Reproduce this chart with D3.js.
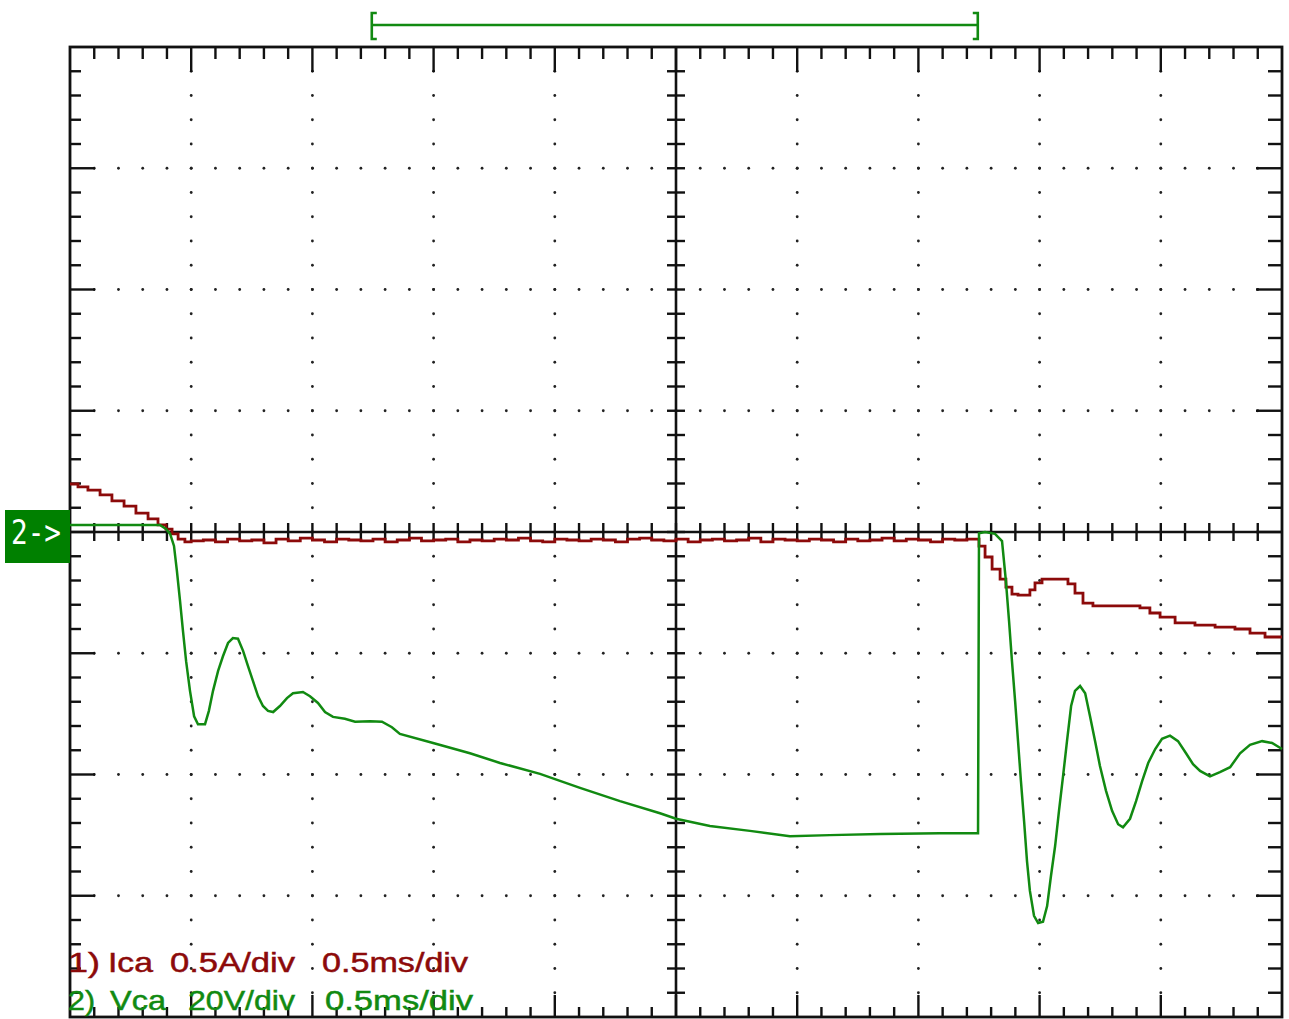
<!DOCTYPE html>
<html>
<head>
<meta charset="utf-8">
<script src="https://cdn.jsdelivr.net/npm/d3@7"></script>
<style>
  html, body { margin: 0; padding: 0; background: #fff; }
  svg { display: block; }
</style>
</head>
<body>
<svg id="scope" width="1289" height="1019"></svg>
<script>
// Channel 2: Vca (V) vs time (ms)
const vcaTime = [0,0.248,0.371,0.396,0.413,0.429,0.441,0.454,0.466,0.479,0.495,0.512,0.528,0.557,0.573,0.590,0.611,0.631,0.652,0.672,0.693,0.714,0.734,0.755,0.776,0.796,0.817,0.838,0.866,0.895,0.920,0.961,0.990,1.023,1.052,1.085,1.134,1.176,1.238,1.287,1.328,1.361,1.498,1.650,1.774,1.939,2.104,2.269,2.434,2.500,2.640,2.805,2.970,3.135,3.342,3.589,3.746,3.750,3.775,3.816,3.845,3.861,3.874,3.886,3.899,3.911,3.923,3.936,3.948,3.960,3.977,3.994,4.014,4.031,4.047,4.064,4.080,4.097,4.113,4.130,4.146,4.167,4.188,4.208,4.229,4.249,4.274,4.299,4.324,4.344,4.373,4.398,4.423,4.448,4.477,4.505,4.538,4.571,4.604,4.633,4.662,4.703,4.744,4.786,4.827,4.868,4.918,4.959,5.0];
const vcaVolts = [1.15,1.15,1.15,0.5,-0.3,-2.3,-6.4,-11.4,-16.3,-21.3,-26.2,-30.4,-31.7,-31.7,-29.5,-26.2,-22.9,-20.5,-18.3,-17.5,-17.6,-19.6,-22.1,-24.6,-27.1,-28.7,-29.5,-29.7,-28.7,-27.4,-26.6,-26.4,-27.1,-28.2,-29.7,-30.5,-30.8,-31.3,-31.2,-31.3,-32.2,-33.3,-34.8,-36.5,-38.1,-39.9,-42.2,-44.4,-46.4,-47.3,-48.5,-49.3,-50.2,-50.0,-49.8,-49.7,-49.7,-0.2,0,-0.3,-1.5,-8.1,-14.7,-21.3,-27.9,-34.5,-41.1,-47.7,-54.3,-59.2,-63.3,-64.5,-64.3,-61.7,-56.7,-51.8,-46.0,-40.2,-34.5,-28.7,-26.2,-25.4,-26.6,-30.4,-34.5,-38.6,-42.7,-46.0,-48.2,-48.7,-47.3,-44.4,-41.1,-38.1,-35.8,-34.1,-33.6,-34.5,-36.5,-38.3,-39.4,-40.3,-39.6,-38.8,-36.5,-35.1,-34.5,-34.8,-35.8];

// Channel 1: Ica (A) vs time (ms)
const icaTime = [0,0.033,0.074,0.124,0.173,0.223,0.272,0.322,0.363,0.396,0.421,0.446,0.474,
  0.50,0.55,0.60,0.65,0.70,0.75,0.80,0.85,0.90,0.95,1.00,1.05,1.10,1.15,1.20,1.25,1.30,1.35,1.40,1.45,1.50,1.55,1.60,1.65,1.70,1.75,1.80,1.85,1.90,1.95,2.00,2.05,2.10,2.15,2.20,2.25,2.30,2.35,2.40,2.45,2.50,2.55,2.60,2.65,2.70,2.75,2.80,2.85,2.90,2.95,3.00,3.05,3.10,3.15,3.20,3.25,3.30,3.35,3.40,3.45,3.50,3.55,3.60,3.65,3.70,
  3.75,3.775,3.804,3.837,3.861,3.886,3.911,3.960,3.981,4.010,4.051,4.117,4.146,4.179,4.220,4.270,4.414,4.455,4.497,4.559,4.641,4.724,4.806,4.868,4.930,5.0];
const icaAmps = [0.198,0.186,0.173,0.153,0.128,0.107,0.078,0.054,0.029,0.012,-0.008,-0.029,-0.041,
  -0.037,-0.033,-0.041,-0.029,-0.037,-0.033,-0.045,-0.029,-0.037,-0.025,-0.033,-0.041,-0.029,-0.033,-0.037,-0.029,-0.041,-0.033,-0.025,-0.037,-0.033,-0.029,-0.041,-0.033,-0.037,-0.029,-0.033,-0.025,-0.037,-0.041,-0.029,-0.033,-0.037,-0.029,-0.033,-0.041,-0.029,-0.025,-0.033,-0.037,-0.029,-0.041,-0.033,-0.029,-0.037,-0.033,-0.025,-0.041,-0.029,-0.033,-0.037,-0.029,-0.033,-0.041,-0.029,-0.037,-0.033,-0.025,-0.037,-0.029,-0.033,-0.041,-0.029,-0.033,
  -0.029,-0.058,-0.103,-0.153,-0.194,-0.227,-0.256,-0.260,-0.239,-0.210,-0.194,-0.194,-0.214,-0.252,-0.293,-0.305,-0.305,-0.313,-0.334,-0.351,-0.375,-0.384,-0.392,-0.400,-0.417,-0.433];

// Readout lines
const readoutCh1 = ["1)", "Ica", "0.5A/div", "0.5ms/div"];
const readoutCh2 = ["2)", "Vca", "20V/div", "0.5ms/div"];
const cursorSpan = [1.245, 3.745]; // ms, bracket above the screen
const groundLabel = "2->";

const C_GREEN = "#118a11";
const C_RED = "#8c0a0a";

const svg = d3.select("#scope");
const L = 70, R = 1282, T = 47, B = 1017;

const x = d3.scaleLinear().domain([0, 5]).range([L, R]);
const yV = d3.scaleLinear().domain([-80, 80]).range([B, T]);
const yI = d3.scaleLinear().domain([-2, 2]).range([B, T]);
const xDiv = d3.scaleLinear().domain([0, 10]).range([L, R]);
const yDiv = d3.scaleLinear().domain([-4, 4]).range([B, T]);

svg.append("rect").attr("width", 1289).attr("height", 1019).attr("fill", "#fff");

const grid = svg.append("g");
const minorX = d3.range(0, 50.001, 1).map(i => i / 5);
const minorY = d3.range(-20, 20.001, 1).map(i => i / 5);
const isMajor = v => Math.abs(v - Math.round(v)) < 1e-6;

// dotted graticule along major divisions
for (let d = 1; d < 10; d++) {
  if (d === 5) continue;
  minorY.forEach(v => {
    if (v <= -4 || v >= 4) return;
    grid.append("circle").attr("cx", xDiv(d)).attr("cy", yDiv(v)).attr("r", 1.4).attr("fill", "#222");
  });
}
for (let d = -3; d <= 3; d++) {
  if (d === 0) continue;
  minorX.forEach(v => {
    if (v <= 0 || v >= 10) return;
    grid.append("circle").attr("cx", xDiv(v)).attr("cy", yDiv(d)).attr("r", 1.4).attr("fill", "#222");
  });
}

const ink = "#111";
const line = (x1, y1, x2, y2, w) => grid.append("line")
  .attr("x1", x1).attr("y1", y1).attr("x2", x2).attr("y2", y2)
  .attr("stroke", ink).attr("stroke-width", w || 2.4);

// center cross with ticks
line(L, yDiv(0), R, yDiv(0), 2.6);
line(xDiv(5), T, xDiv(5), B, 2.6);
minorX.forEach(v => { if (v > 0 && v < 10) line(xDiv(v), yDiv(0) - 9, xDiv(v), yDiv(0) + 9); });
minorY.forEach(v => { if (v > -4 && v < 4) line(xDiv(5) - 9, yDiv(v), xDiv(5) + 9, yDiv(v)); });

// border ticks
minorX.forEach(v => {
  if (v <= 0 || v >= 10) return;
  const len = isMajor(v) ? 25 : 12;
  line(xDiv(v), T, xDiv(v), T + len);
  line(xDiv(v), B, xDiv(v), B - (isMajor(v) ? 22 : 10));
});
minorY.forEach(v => {
  if (v <= -4 || v >= 4) return;
  const len = isMajor(v) ? 25 : 11;
  line(L, yDiv(v), L + len, yDiv(v));
  line(R, yDiv(v), R - (isMajor(v) ? 26 : 14), yDiv(v));
});

// screen border
grid.append("rect").attr("x", L).attr("y", T).attr("width", R - L).attr("height", B - T)
  .attr("fill", "none").attr("stroke", ink).attr("stroke-width", 2.8);

// traces
const traces = svg.append("g");
traces.append("path")
  .datum(icaTime.map((t, i) => [t, icaAmps[i]]))
  .attr("fill", "none").attr("stroke", C_RED).attr("stroke-width", 2.8)
  .attr("d", d3.line().x(d => x(d[0])).y(d => yI(d[1])).curve(d3.curveStepAfter));
traces.append("path")
  .datum(vcaTime.map((t, i) => [t, vcaVolts[i]]))
  .attr("fill", "none").attr("stroke", C_GREEN).attr("stroke-width", 2.5)
  .attr("d", d3.line().x(d => x(d[0])).y(d => yV(d[1])));

// cursor bracket above the screen
const br = svg.append("g").attr("stroke", C_GREEN).attr("stroke-width", 2.6).attr("fill", "none");
const bx0 = x(cursorSpan[0]), bx1 = x(cursorSpan[1]), by = 25;
br.append("line").attr("x1", bx0).attr("y1", by).attr("x2", bx1).attr("y2", by);
br.append("path").attr("d", `M${bx0 + 5},13 H${bx0} V39 H${bx0 + 5}`);
br.append("path").attr("d", `M${bx1 - 5},13 H${bx1} V39 H${bx1 - 5}`);

// channel 2 ground marker
svg.append("rect").attr("x", 5).attr("y", 510).attr("width", 65).attr("height", 53).attr("fill", "#008000");
svg.append("text").attr("x", 11).attr("y", 544).attr("fill", "#fff")
  .attr("font-family", "DejaVu Sans Mono, monospace").attr("font-size", 33)
  .attr("textLength", 50).attr("lengthAdjust", "spacingAndGlyphs").text(groundLabel);

// readout text
const rx1 = [68, 108, 170, 322], rw1 = [32, 45, 125, 146];
const rx2 = [68, 110, 188, 325], rw2 = [27, 56, 107, 148];
const rtext = svg.append("g").attr("font-family", "Liberation Sans, Arial, sans-serif").attr("font-size", 28)
  .attr("stroke-width", 0.5);
readoutCh1.forEach((s, i) => rtext.append("text").attr("x", rx1[i]).attr("y", 972)
  .attr("fill", C_RED).attr("stroke", C_RED).attr("textLength", rw1[i]).attr("lengthAdjust", "spacingAndGlyphs").text(s));
readoutCh2.forEach((s, i) => rtext.append("text").attr("x", rx2[i]).attr("y", 1010)
  .attr("fill", C_GREEN).attr("stroke", C_GREEN).attr("textLength", rw2[i]).attr("lengthAdjust", "spacingAndGlyphs").text(s));
</script>
</body>
</html>
